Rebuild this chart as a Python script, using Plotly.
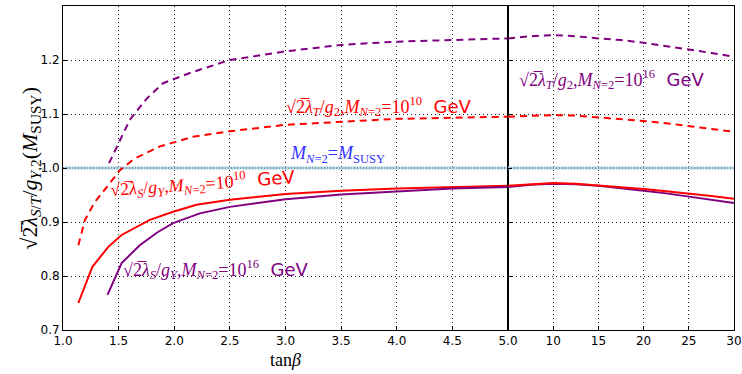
import plotly.graph_objects as go
from plotly.subplots import make_subplots

# tan(beta) sample points, low range (1-5) and high range (5-30)
tb_low_red_solid = [1.138, 1.264, 1.407, 1.527, 1.78, 1.99, 2.2, 2.5, 3.0, 3.5, 4.0, 4.5, 5.0]
lamS_1e10_low = [0.750, 0.817, 0.854, 0.876, 0.904, 0.919, 0.932, 0.941, 0.952, 0.958, 0.962, 0.965, 0.967]

tb_low_purple_solid = [1.40, 1.527, 1.69, 1.85, 1.99, 2.23, 2.5, 3.0, 3.5, 4.0, 4.5, 5.0]
lamS_1e16_low = [0.765, 0.824, 0.857, 0.881, 0.898, 0.916, 0.928, 0.942, 0.951, 0.957, 0.962, 0.965]

tb_low_red_dash = [1.138, 1.198, 1.28, 1.362, 1.44, 1.512, 1.647, 1.872, 2.17, 2.5, 3.0, 3.5, 4.0, 4.5, 5.0]
lamT_1e10_low = [0.857, 0.904, 0.935, 0.956, 0.978, 0.996, 1.018, 1.040, 1.058, 1.068, 1.080, 1.086, 1.091, 1.093, 1.095]

tb_low_purple_dash = [1.414, 1.5, 1.6, 1.75, 1.9, 2.14, 2.5, 3.0, 3.5, 4.0, 4.5, 5.0]
lamT_1e16_low = [1.009, 1.046, 1.089, 1.128, 1.157, 1.176, 1.200, 1.216, 1.228, 1.234, 1.237, 1.240]

tb_high = [5, 7.5, 10, 12.5, 15, 17.5, 20, 22.5, 25, 27.5, 30]
lamS_1e10_high = [0.967, 0.970, 0.972, 0.971, 0.968, 0.965, 0.961, 0.957, 0.953, 0.948, 0.943]
lamS_1e16_high = [0.965, 0.969, 0.971, 0.970, 0.967, 0.963, 0.958, 0.953, 0.947, 0.941, 0.935]
lamT_1e10_high = [1.095, 1.097, 1.098, 1.097, 1.094, 1.091, 1.087, 1.083, 1.078, 1.073, 1.067]
lamT_1e16_high = [1.240, 1.244, 1.246, 1.244, 1.240, 1.237, 1.232, 1.226, 1.220, 1.213, 1.206]

low_ticks = [1.0, 1.5, 2.0, 2.5, 3.0, 3.5, 4.0, 4.5, 5.0]
high_ticks = [10, 15, 20, 25, 30]
y_ticks = [0.7, 0.8, 0.9, 1.0, 1.1, 1.2, 1.3]
m_susy_level = 1.0

RED = "#ff0000"
PURPLE = "#800080"
DASH = "7px,5px"
MATH = "Liberation Serif"
SANS = "DejaVu Sans"

split = 445 / 671
fig = make_subplots(rows=1, cols=2, shared_yaxes=True, horizontal_spacing=0,
                    column_widths=[split, 1 - split])

def add_line(x, y, color, dash, col, width=2):
    fig.add_trace(go.Scatter(x=x, y=y, mode="lines",
                             line=dict(color=color, width=width, dash=dash),
                             showlegend=False, hoverinfo="skip"), row=1, col=col)

# reference level M_{N=2} = M_SUSY
for col, xr in ((1, [1.0, 5.0]), (2, [5, 30])):
    add_line(xr, [m_susy_level] * 2, "#add8e6", "solid", col, width=3)
    add_line(xr, [m_susy_level] * 2, "#555", "1px,2px", col, width=1)

add_line(tb_low_red_dash, lamT_1e10_low, RED, DASH, 1)
add_line(tb_low_purple_dash, lamT_1e16_low, PURPLE, DASH, 1)
add_line(tb_low_red_solid, lamS_1e10_low, RED, "solid", 1)
add_line(tb_low_purple_solid, lamS_1e16_low, PURPLE, "solid", 1)

add_line(tb_high, lamT_1e10_high, RED, DASH, 2)
add_line(tb_high, lamT_1e16_high, PURPLE, DASH, 2)
add_line(tb_high, lamS_1e16_high, PURPLE, "solid", 2)
add_line(tb_high, lamS_1e10_high, RED, "solid", 2)

axis_common = dict(showline=True, linecolor="black", linewidth=1, mirror=True,
                   ticks="inside", ticklen=4, tickcolor="black", automargin=False,
                   showgrid=True, gridcolor="#222", griddash="1px,3px", gridwidth=1,
                   zeroline=False, tickfont=dict(family=SANS, size=12, color="black"))

fig.update_xaxes(range=[1.0, 5.0], tickvals=low_ticks,
                 ticktext=[f"{v:.1f}" for v in low_ticks], row=1, col=1, **axis_common)
fig.update_xaxes(range=[5, 30], tickvals=high_ticks,
                 ticktext=[str(v) for v in high_ticks], row=1, col=2, **axis_common)
fig.update_yaxes(range=[0.7, 1.3], tickvals=y_ticks,
                 ticktext=[f"{v:.1f}" for v in y_ticks], row=1, col=1, **axis_common)
fig.update_yaxes(range=[0.7, 1.3], tickvals=y_ticks, showticklabels=False,
                 row=1, col=2, **axis_common)

SQRT2 = "√2\u0305"

def label(text, x, y, color, xref, yref, angle=0, size=18):
    fig.add_annotation(x=x, y=y, xref=xref, yref=yref, text=text, showarrow=False,
                       xanchor="left", yanchor="middle", textangle=angle,
                       font=dict(family=MATH, size=size, color=color))

gev = f"<span style='font-family:{SANS}'>  GeV</span>"
label(f"{SQRT2}<i>λ<sub>T</sub></i>/<i>g</i><sub>2</sub>,<i>M<sub>N</sub></i><sub>=2</sub>=10<sup>10</sup>{gev}",
      2.99, 1.113, RED, "x", "y")
label("<i>M<sub>N</sub></i><sub>=2</sub>=<i>M</i><sub>SUSY</sub>",
      3.02, 1.025, "#3333ff", "x", "y")
label(f"{SQRT2}<i>λ<sub>S</sub></i>/<i>g<sub>Y</sub></i>,<i>M<sub>N</sub></i><sub>=2</sub>=10<sup>10</sup>{gev}",
      1.40, 0.972, RED, "x", "y", angle=-4)
label(f"{SQRT2}<i>λ<sub>S</sub></i>/<i>g<sub>Y</sub></i>,<i>M<sub>N</sub></i><sub>=2</sub>=10<sup>16</sup>{gev}",
      1.52, 0.812, PURPLE, "x", "y")
label(f"{SQRT2}<i>λ<sub>T</sub></i>/<i>g</i><sub>2</sub>,<i>M<sub>N</sub></i><sub>=2</sub>=10<sup>16</sup>{gev}",
      6.0, 1.163, PURPLE, "x2", "y2")

# axis titles
fig.add_annotation(x=3.0, y=-0.055, xref="x", yref="paper", yanchor="top",
                   text="tan<i>β</i>", showarrow=False,
                   font=dict(family=MATH, size=18, color="black"))
fig.add_annotation(x=-0.072, y=0.5, xref="paper", yref="paper", textangle=-90,
                   text=f"{SQRT2}<i>λ</i><sub><i>S</i>/<i>T</i></sub>/<i>g</i><sub><i>Y</i>,2</sub>(<i>M</i><sub>SUSY</sub>)",
                   showarrow=False, font=dict(family=MATH, size=22, color="black"))

fig.update_layout(width=742, height=374, margin=dict(l=63, r=8, t=6, b=44),
                  plot_bgcolor="white", paper_bgcolor="white")

fig.write_html("out.html")
